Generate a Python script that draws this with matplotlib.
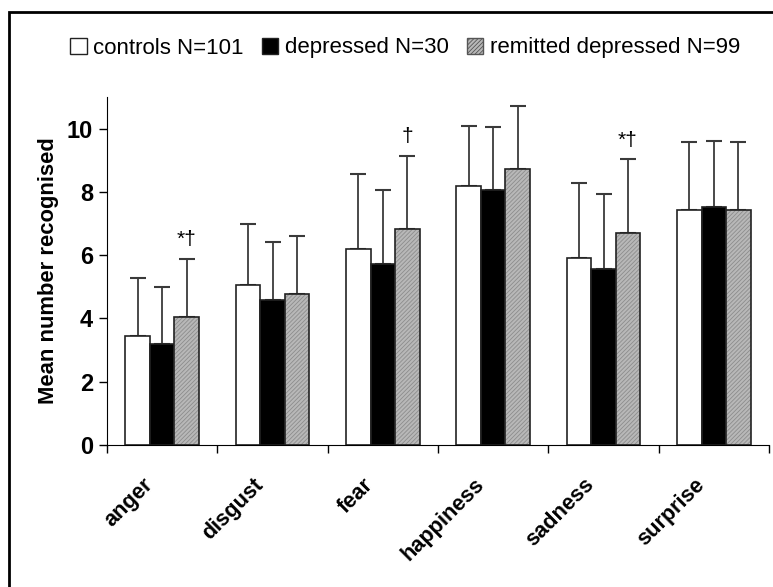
import matplotlib.pyplot as plt
import matplotlib.patches as mpatches
import numpy as np

plt.rcParams['font.family'] = ['Liberation Sans', 'DejaVu Sans']
plt.rcParams['hatch.linewidth'] = 0.6

emocoes = ['anger', 'disgust', 'fear', 'happiness', 'sadness', 'surprise']

# medias
controls = [3.43, 5.06, 6.21, 8.19, 5.90, 7.44]
depressed = [3.18, 4.59, 5.73, 8.07, 5.55, 7.51]
remitted = [4.04, 4.77, 6.82, 8.73, 6.69, 7.44]

# topo das barras de erro
controls_top = [5.29, 6.97, 8.58, 10.08, 8.28, 9.58]
depressed_top = [5.01, 6.42, 8.06, 10.04, 7.93, 9.61]
remitted_top = [5.89, 6.60, 9.15, 10.71, 9.03, 9.58]

# marcas de significancia (sobre remitted)
marcas = {'anger': '*†', 'fear': '†', 'sadness': '*†'}

fig = plt.figure(figsize=(7.73, 5.87), dpi=100)
ax = fig.add_axes([107/773, 1-445/587, 662/773, 348/587])

x = np.arange(len(emocoes))
w = 0.222

def barras(pos, vals, tops, face, hatch=None):
    vals = np.array(vals)
    err = np.array(tops) - vals
    ax.errorbar(pos, vals, yerr=[np.zeros_like(err), err], fmt='none',
                ecolor='#3a3a3a', elinewidth=1.3, capsize=5.5, capthick=1.5, zorder=1)
    if hatch:
        ax.bar(pos, vals, w, color=face, edgecolor='#8c8c8c', hatch=hatch,
               linewidth=0, zorder=2)
        ax.bar(pos, vals, w, fill=False, edgecolor='#222222', linewidth=1.2, zorder=3)
    else:
        ax.bar(pos, vals, w, color=face, edgecolor='#222222', linewidth=1.2, zorder=2)

barras(x - w, controls, controls_top, 'white')
barras(x, depressed, depressed_top, 'black')
barras(x + w, remitted, remitted_top, '#b8b8b8', hatch='////////')

for i, e in enumerate(emocoes):
    if e in marcas:
        ax.text(x[i] + w, remitted_top[i] + 0.3, marcas[e], ha='center', va='bottom',
                fontsize=15)

ax.set_xlim(-0.5, len(emocoes) - 0.5)
ax.set_ylim(0, 11)
ax.set_yticks([0, 2, 4, 6, 8, 10])
ax.set_xticks(np.arange(-0.5, len(emocoes)))
ax.set_xticklabels([])
ax.tick_params(axis='x', length=6, width=1, direction='out')
ax.tick_params(axis='y', length=6, width=1, direction='out', labelsize=17, pad=4)
for lab in ax.get_yticklabels():
    lab.set_fontweight('bold')

for i, e in enumerate(emocoes):
    ax.text(x[i] - 0.18, -0.92, e, rotation=45, ha='right', va='top',
            rotation_mode='anchor', fontsize=15.7, fontweight='bold')

ax.set_ylabel('Mean number recognised', fontsize=15.8, fontweight='bold', labelpad=6)
ax.spines['top'].set_visible(False)
ax.spines['right'].set_visible(False)

handles = [mpatches.Patch(facecolor='white', edgecolor='#222222', label='controls N=101'),
           mpatches.Patch(facecolor='black', edgecolor='#222222', label='depressed N=30'),
           mpatches.Patch(facecolor='#b8b8b8', edgecolor='#555555', hatch='////////',
                          label='remitted depressed N=99')]
fig.legend(handles=handles, loc='center', bbox_to_anchor=(405/773, 1-48/587), ncol=3,
           frameon=False, fontsize=16, handlelength=0.75, handleheight=0.75,
           handletextpad=0.3, columnspacing=0.8)

# moldura externa
fig.patches.append(mpatches.Rectangle((9/773, -0.1), 1.2, 1 - 12/587 + 0.1,
                                      transform=fig.transFigure, fill=False,
                                      edgecolor='black', linewidth=2))

fig.savefig('out.png', dpi=100)
